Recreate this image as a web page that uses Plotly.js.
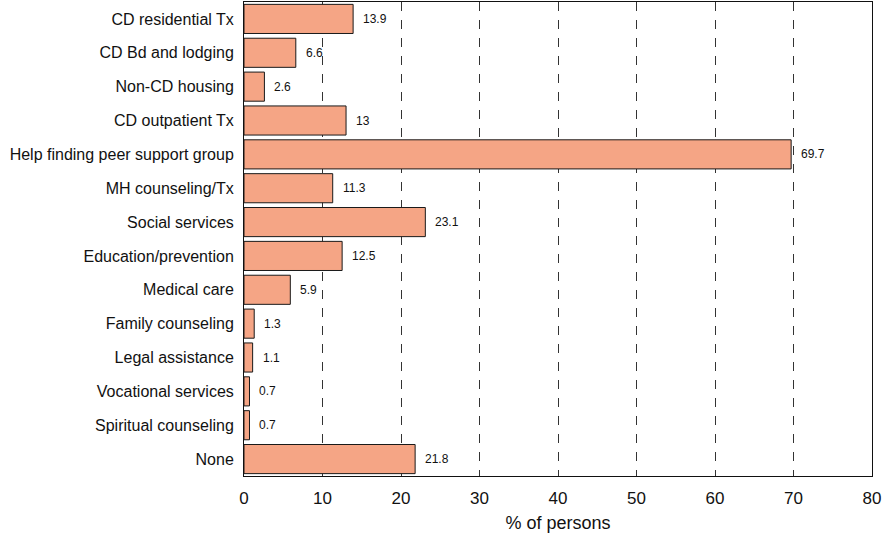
<!DOCTYPE html>
<html><head><meta charset="utf-8">
<script src="https://cdn.plot.ly/plotly-3.0.1.min.js"></script>
<style>html,body{margin:0;padding:0;background:#fff}#c{width:886px;height:541px}</style>
</head><body><div id="c"></div>
<script>
const categories = ["CD residential Tx","CD Bd and lodging","Non-CD housing","CD outpatient Tx","Help finding peer support group","MH counseling/Tx","Social services","Education/prevention","Medical care","Family counseling","Legal assistance","Vocational services","Spiritual counseling","None"];
const values = [13.9,6.6,2.6,13,69.7,11.3,23.1,12.5,5.9,1.3,1.1,0.7,0.7,21.8];
const valueLabels = ["13.9","6.6","2.6","13","69.7","11.3","23.1","12.5","5.9","1.3","1.1","0.7","0.7","21.8"];
const xTicks = [0,10,20,30,40,50,60,70,80];

const font = "Liberation Sans, Arial, sans-serif";
const trace = {
  type: "bar", orientation: "h", x: values, y: categories,
  marker: {color: "#F5A585", line: {color: "#1a1a1a", width: 1}},
  hoverinfo: "skip"
};
const annotations = categories.map((c,i)=>({
  x: values[i], y: c, xref: "x", yref: "y", text: valueLabels[i], showarrow: false,
  xanchor: "left", xshift: 8, font: {family: font, size: 12, color: "#111"}
}));
const layout = {
  width: 886, height: 541,
  margin: {l: 244, r: 14, t: 2, b: 65},
  paper_bgcolor: "#fff", plot_bgcolor: "#fff",
  bargap: 0.14,
  showlegend: false,
  font: {family: font, color: "#111"},
  xaxis: {
    range: [0, 80], tickvals: xTicks, ticktext: xTicks.map(String),
    showgrid: true, gridcolor: "#333", griddash: "dash", gridwidth: 1,
    zeroline: false, showline: true, linecolor: "#111", linewidth: 1, mirror: true,
    ticks: "", ticklabelstandoff: 7, tickfont: {family: font, size: 17, color: "#111"},
    title: {text: "% of persons", font: {family: font, size: 18, color: "#111"}, standoff: 8}
  },
  yaxis: {
    autorange: "reversed", showgrid: false, zeroline: false,
    showline: true, linecolor: "#111", linewidth: 1, mirror: true,
    ticks: "", ticklabelstandoff: 6,
    tickfont: {family: font, size: 16, color: "#111"}
  },
  annotations: annotations
};
Plotly.newPlot("c", [trace], layout, {staticPlot: true, displayModeBar: false});
</script></body></html>
